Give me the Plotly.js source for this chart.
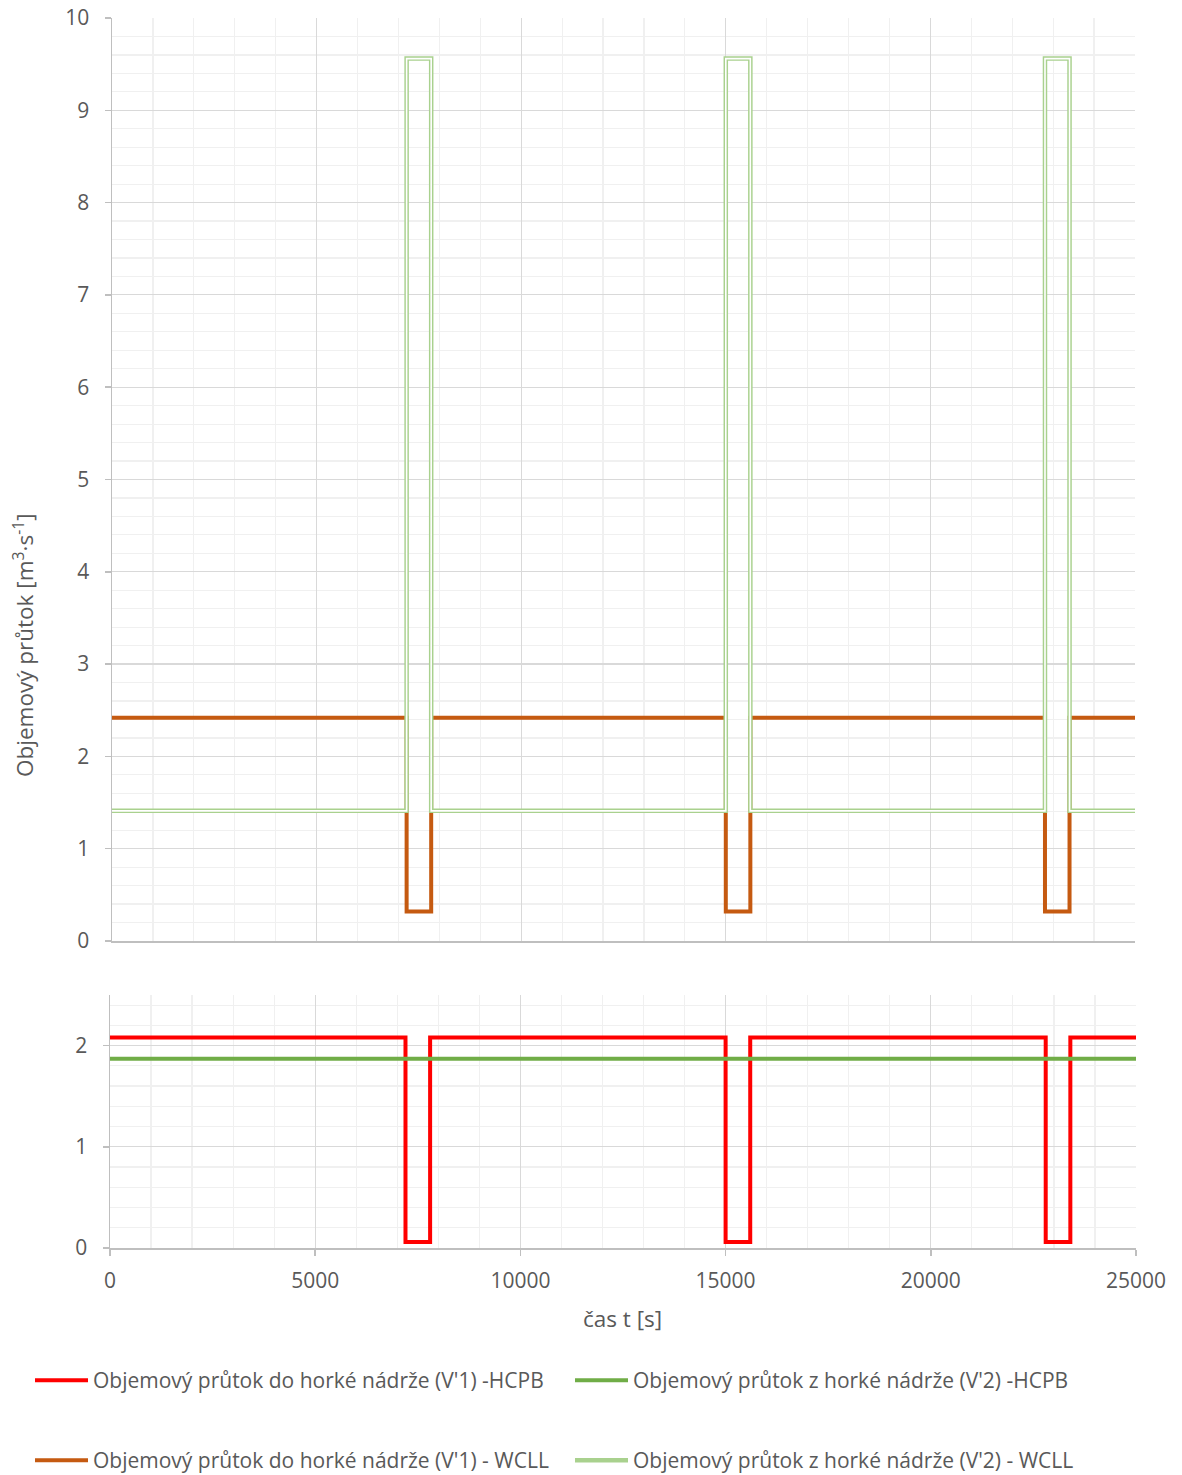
<!DOCTYPE html>
<html>
<head>
<meta charset="utf-8">
<script src="https://cdn.plot.ly/plotly-3.0.1.min.js"></script>
<style>html,body{margin:0;padding:0;background:#fff;}#chart{width:1182px;height:1475px;}</style>
</head>
<body>
<div id="chart"></div>
<script>
// Step-change times [s]; each value holds until the next time (hv steps)
const times = [0, 7200, 7800, 15000, 15600, 22800, 23400, 25000];
const hcpbV1 = [2.08, 0.06, 2.08, 0.06, 2.08, 0.06, 2.08, 2.08];
const hcpbV2 = [1.87, 1.87, 1.87, 1.87, 1.87, 1.87, 1.87, 1.87];
const wcllV1 = [2.42, 0.32, 2.42, 0.32, 2.42, 0.32, 2.42, 2.42];
const wcllV2 = [1.41, 9.56, 1.41, 9.56, 1.41, 9.56, 1.41, 1.41];

const names = [
  "Objemový průtok do horké nádrže (V'1) -HCPB",
  "Objemový průtok z horké nádrže (V'2) -HCPB",
  "Objemový průtok do horké nádrže (V'1) - WCLL",
  "Objemový průtok z horké nádrže (V'2) - WCLL"
];
const yTitle = "Objemový průtok [m<sup>3</sup>·s<sup>-1</sup>]";
const xTitle = "čas t [s]";

const FONT = "Open Sans, Noto Sans, sans-serif";
const TXT = "#595959";

const W = 1182, H = 1475;
const L = 110, R = 46, T = 18, B = 227;
const pw = W - L - R, ph = H - T - B;
const px = v => (v - L) / pw;      // pixel x -> paper
const py = v => (H - B - v) / ph;  // pixel y -> paper

const traces = [
  {x: times, y: hcpbV1, xaxis: 'x2', yaxis: 'y2', mode: 'lines', line: {shape: 'hv', color: '#ff0000', width: 4}, name: names[0], legend: 'legend'},
  {x: times, y: hcpbV2, xaxis: 'x2', yaxis: 'y2', mode: 'lines', line: {shape: 'hv', color: '#70ad47', width: 4}, name: names[1], legend: 'legend2'},
  {x: times, y: wcllV1, xaxis: 'x', yaxis: 'y', mode: 'lines', line: {shape: 'hv', color: '#c55a11', width: 4}, name: names[2], legend: 'legend3'},
  {x: times, y: wcllV2, xaxis: 'x', yaxis: 'y', mode: 'lines', line: {shape: 'hv', color: '#a9d18e', width: 4.5}, name: names[3], legend: 'legend4'},
  {x: times, y: wcllV2, xaxis: 'x', yaxis: 'y', mode: 'lines', line: {shape: 'hv', color: '#ffffff', width: 1.6}, showlegend: false, hoverinfo: 'skip'}
];

const axisCommon = {
  showline: true, linecolor: '#bfbfbf', linewidth: 1.5,
  gridcolor: '#d9d9d9', gridwidth: 1.2,
  zeroline: false,
  ticks: 'outside', ticklen: 6, tickcolor: '#bfbfbf', tickwidth: 1.5,
  tickformat: 'd',
  tickfont: {family: FONT, size: 21, color: TXT}
};

const legendFont = {family: FONT, size: 21, color: TXT};
function mkLegend(xpix, ypix) {
  return {
    orientation: 'h', xref: 'container', yref: 'container',
    x: xpix / W, y: 1 - ypix / H, xanchor: 'left', yanchor: 'top',
    itemwidth: 53, font: legendFont, bgcolor: 'rgba(0,0,0,0)'
  };
}

const layout = {
  width: W, height: H,
  margin: {l: L, r: R, t: T, b: B},
  paper_bgcolor: '#ffffff', plot_bgcolor: '#ffffff',
  font: {family: FONT, color: TXT},
  showlegend: true,
  xaxis: Object.assign({}, axisCommon, {
    domain: [px(112), px(1135)], range: [0, 25000], dtick: 5000,
    showticklabels: false, ticks: '', anchor: 'y',
    minor: {dtick: 1000, showgrid: true, gridcolor: '#f0f0f0', gridwidth: 1.2}
  }),
  yaxis: Object.assign({}, axisCommon, {
    domain: [py(941), 1], range: [0, 10], dtick: 1, anchor: 'x',
    ticklabelstandoff: 11,
    minor: {dtick: 0.2, showgrid: true, gridcolor: '#f0f0f0', gridwidth: 1.2}
  }),
  xaxis2: Object.assign({}, axisCommon, {
    domain: [0, px(1136)], range: [0, 25000], dtick: 5000, anchor: 'y2',
    ticklabelstandoff: 7,
    minor: {dtick: 1000, showgrid: true, gridcolor: '#f0f0f0', gridwidth: 1.2}
  }),
  yaxis2: Object.assign({}, axisCommon, {
    domain: [0, py(995)], range: [0, 2.5], tickvals: [0, 1, 2], anchor: 'x2',
    ticklabelstandoff: 11,
    minor: {tickvals: [0.2,0.4,0.6,0.8,1.2,1.4,1.6,1.8,2.2,2.4], showgrid: true, gridcolor: '#f0f0f0', gridwidth: 1.2}
  }),
  legend: mkLegend(30, 1360),
  legend2: mkLegend(570, 1360),
  legend3: mkLegend(30, 1440),
  legend4: mkLegend(570, 1440),
  annotations: [
    {text: yTitle, xref: 'paper', yref: 'paper', x: px(23), y: py(645), textangle: -90,
     showarrow: false, xanchor: 'center', yanchor: 'middle', font: {family: FONT, size: 22.5, color: TXT}},
    {text: xTitle, xref: 'paper', yref: 'paper', x: px(622), y: py(1319),
     showarrow: false, xanchor: 'center', yanchor: 'middle', font: {family: FONT, size: 22.5, color: TXT}}
  ]
};

Plotly.newPlot('chart', traces, layout, {displayModeBar: false, staticPlot: true});
</script>
</body>
</html>
